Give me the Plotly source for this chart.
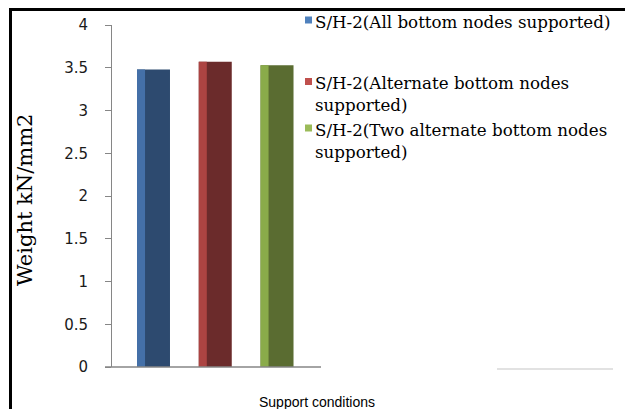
import plotly.graph_objects as go

# Weight of the S/H-2 frame under three support conditions
series = [
    "S/H-2(All bottom nodes supported)",
    "S/H-2(Alternate bottom nodes<br>supported)",
    "S/H-2(Two alternate bottom nodes<br>supported)",
]
weights = [3.48, 3.57, 3.53]
positions = [0, 1, 2]
face_colors = ["#2d4a6f", "#6b2b2b", "#5a6c31"]
edge_colors = ["#4470a8", "#ac4442", "#8aab4a"]
swatch_colors = ["#4f81bd", "#c0504d", "#9bbb59"]
y_ticks = [0, 0.5, 1, 1.5, 2, 2.5, 3, 3.5, 4]
y_tick_text = ["0", "0.5", "1", "1.5", "2", "2.5", "3", "3.5", "4"]

W, H = 625, 409
L, R, T, B = 112, 321, 25, 367  # plot box in pixels


def px(x):
    return (x - L) / (R - L)


def py(y):
    return (B - y) / (B - T)


BAR_W = 0.534
STRIP_W = 0.13

fig = go.Figure()
for i in range(3):
    fig.add_trace(go.Bar(
        x=[positions[i]], y=[weights[i]], width=BAR_W,
        marker=dict(color=face_colors[i], line=dict(width=0)),
        showlegend=False, hoverinfo="skip",
    ))
    fig.add_trace(go.Bar(
        x=[positions[i]], y=[weights[i]], width=STRIP_W, offset=-BAR_W / 2,
        marker=dict(color=edge_colors[i], line=dict(width=0)),
        showlegend=False, hoverinfo="skip",
    ))

fig.update_layout(
    width=W, height=H,
    margin=dict(l=L, r=W - R, t=T, b=H - B, pad=0),
    paper_bgcolor="white", plot_bgcolor="white",
    barmode="overlay",
    xaxis=dict(range=[-0.672, 2.712], showticklabels=False, ticks="",
               showgrid=False, zeroline=False, showline=False, fixedrange=True),
    yaxis=dict(range=[0, 4], tickvals=y_ticks, ticktext=y_tick_text,
               ticks="outside", ticklen=6, tickcolor="#868686", tickwidth=1,
               showline=True, linecolor="#868686", linewidth=1,
               showgrid=False, zeroline=False,
               tickfont=dict(family="DejaVu Sans", size=15, color="#1a1a1a"),
               ticklabelstandoff=14),
)

shapes = [
    # category axis line
    dict(type="line", xref="paper", yref="paper", x0=px(105), x1=px(321),
         y0=py(367), y1=py(367), line=dict(color="#868686", width=1.5)),
    dict(type="line", xref="paper", yref="paper", x0=px(497), x1=px(613),
         y0=py(369), y1=py(369), line=dict(color="#d9d9d9", width=1.5)),
    # outer frame
    dict(type="line", xref="paper", yref="paper", x0=px(9), x1=px(625),
         y0=py(9.5), y1=py(9.5), line=dict(color="black", width=3)),
    dict(type="line", xref="paper", yref="paper", x0=px(10.5), x1=px(10.5),
         y0=py(8), y1=py(409), line=dict(color="black", width=3)),
]

annotations = [
    dict(text="Weight kN/mm2", xref="paper", yref="paper", x=px(25), y=py(200),
         textangle=-90, showarrow=False, xanchor="center", yanchor="middle",
         font=dict(family="DejaVu Serif", size=21, color="black")),
    dict(text="Support conditions", xref="paper", yref="paper", x=px(317), y=py(402),
         showarrow=False, xanchor="center", yanchor="middle",
         font=dict(family="Liberation Sans", size=14, color="black")),
]

# legend: swatch + label per series
legend_y = [20, 81.5, 128]
for name, color, ly in zip(series, swatch_colors, legend_y):
    shapes.append(dict(type="rect", xref="paper", yref="paper",
                       x0=px(305), x1=px(312), y0=py(ly - 3.5), y1=py(ly + 3.5),
                       fillcolor=color, line=dict(width=0)))
    annotations.append(dict(text=name, xref="paper", yref="paper",
                            x=px(313), y=py(ly - 10.5), showarrow=False,
                            xanchor="left", yanchor="top", align="left",
                            font=dict(family="DejaVu Serif", size=16.7, color="black")))

fig.update_layout(shapes=shapes, annotations=annotations)
fig.write_html("out.html")
